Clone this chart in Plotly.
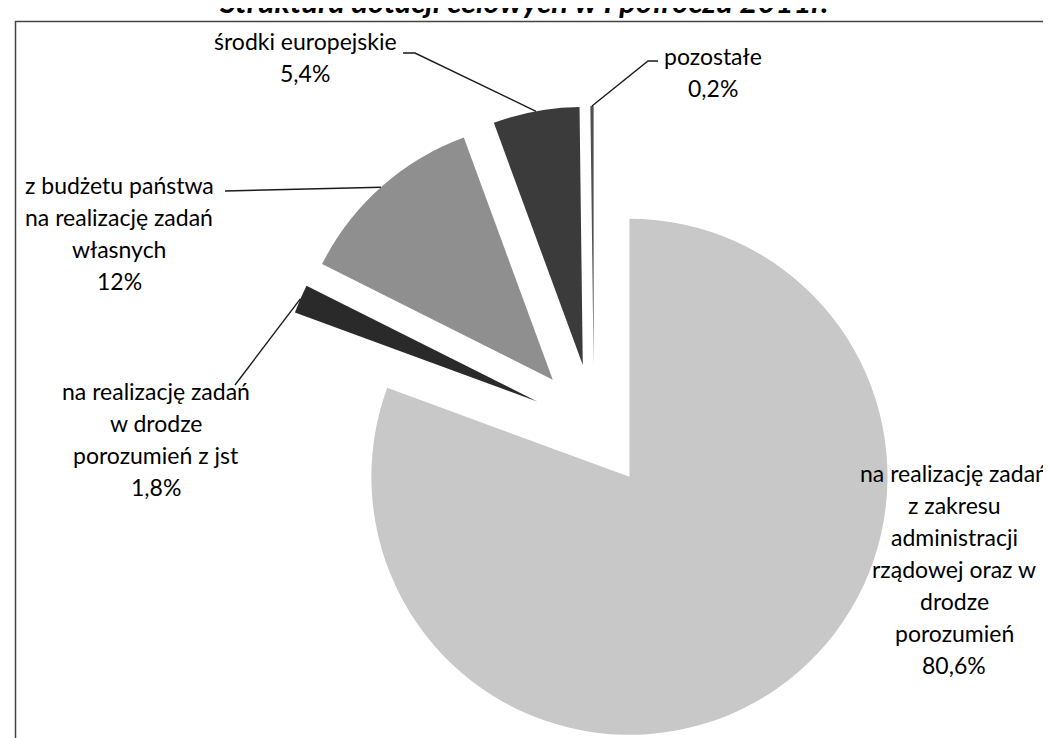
import math
import plotly.graph_objects as go

# ---- data ----
categories = [
    "na realizację zadań z zakresu administracji rządowej oraz w drodze porozumień",
    "na realizację zadań w drodze porozumień z jst",
    "z budżetu państwa na realizację zadań własnych",
    "środki europejskie",
    "pozostałe",
]
values = [80.6, 1.8, 12.0, 5.4, 0.2]
value_labels = ["80,6%", "1,8%", "12%", "5,4%", "0,2%"]
label_lines = [
    ["na realizację zadań", "z zakresu", "administracji", "rządowej oraz w", "drodze", "porozumień"],
    ["na realizację zadań", "w drodze", "porozumień z jst"],
    ["z budżetu państwa", "na realizację zadań", "własnych"],
    ["środki europejskie"],
    ["pozostałe"],
]
colors = ["#c8c8c8", "#2a2a2a", "#8f8f8f", "#3b3b3b", "#505050"]
title_text = "Struktura dotacji celowych w I półroczu 2011r."

# ---- layout helpers ----
W, H = 1051, 738
def px(x):
    return x / W
def py(y):
    return 1 - y / H

cx, cy, half = 586, 418, 320
pull = 0.24
r = half / (1 + pull)
d = pull * r

def arc_mid(i):
    tot = sum(values)
    a0 = sum(values[:i]) / tot * 360
    a1 = sum(values[: i + 1]) / tot * 360
    m = math.radians((a0 + a1) / 2)
    return (cx + (d + r) * math.sin(m), cy - (d + r) * math.cos(m))

fig = go.Figure(
    go.Pie(
        labels=categories,
        values=values,
        sort=False,
        direction="clockwise",
        rotation=0,
        pull=[pull] * len(values),
        textinfo="none",
        hoverinfo="label+percent",
        marker=dict(colors=colors, line=dict(width=0)),
        showlegend=False,
        domain=dict(x=[px(cx - half), px(cx + half)], y=[py(cy + half), py(cy - half)]),
    )
)

# label positions (center x, first line y), in px
label_pos = [(946, 465), (148, 383), (111, 177), (297, 33), (705, 48)]
line_gap = 32
font_family = "Lato, Carlito, Calibri, sans-serif"
annotations = []
for i, (lx, ly) in enumerate(label_pos):
    lines = label_lines[i] + [value_labels[i]]
    for k, t in enumerate(lines):
        annotations.append(dict(
            x=px(lx), y=py(ly + k * line_gap), xref="paper", yref="paper",
            text=t, showarrow=False, xanchor="center", yanchor="middle",
            font=dict(family=font_family, size=23, color="#000000"),
        ))

annotations.append(dict(
    x=px(515), y=py(14), xref="paper", yref="paper", text=f"<b><i>{title_text}</i></b>",
    showarrow=False, xanchor="center", yanchor="bottom",
    font=dict(family=font_family, size=31, color="#000000"),
))

# leader lines: start points near labels (with optional elbow), end at slice arc mid
leader_starts = {
    3: [(395, 45), (407, 45)],
    4: [(650, 53), (640, 53)],
    2: [(217, 183)],
    1: [(227, 377)],
}
shapes = []
for i, pts in leader_starts.items():
    ex, ey = arc_mid(i)
    allpts = pts + [(ex, ey)]
    path = "M " + " L ".join(f"{px(x):.5f},{py(y):.5f}" for x, y in allpts)
    shapes.append(dict(type="path", path=path, xref="paper", yref="paper",
                       line=dict(color="#1a1a1a", width=1.4)))

# outer frame (scan crops its right and bottom edges)
shapes.append(dict(type="rect", xref="paper", yref="paper",
                   x0=px(7.5), x1=px(1060), y0=py(760), y1=py(13.5),
                   line=dict(color="#444444", width=1.5), fillcolor="rgba(0,0,0,0)", layer="below"))

fig.update_layout(
    width=W, height=H,
    margin=dict(l=0, r=0, t=0, b=0),
    paper_bgcolor="white", plot_bgcolor="white",
    annotations=annotations, shapes=shapes,
)
fig.write_html("out.html")
